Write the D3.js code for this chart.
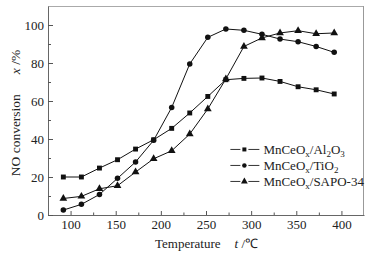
<!DOCTYPE html>
<html>
<head>
<meta charset="utf-8">
<script src="https://cdn.jsdelivr.net/npm/d3@7"></script>
<style>
  body { margin: 0; background: #fff; }
  svg text { font-family: "Liberation Serif", "Times New Roman", serif; fill: #222; }
</style>
</head>
<body>
<div id="chart"></div>
<script>
// Data
const temps = [92, 112, 132, 152, 172, 192, 212, 232, 252, 272, 292, 312, 332, 352, 372, 392];
const al2o3 = [20.0, 20.0, 24.7, 29.1, 34.7, 39.6, 45.6, 53.7, 62.4, 71.2, 71.9, 72.1, 70.3, 67.5, 65.9, 63.7];
const tio2 = [2.6, 5.6, 10.8, 19.3, 27.9, 39.3, 56.6, 79.5, 93.5, 97.9, 97.2, 95.1, 92.6, 91.2, 88.7, 85.6];
const sapo = [8.7, 9.8, 13.8, 15.4, 22.6, 29.6, 33.8, 42.6, 55.8, 71.6, 88.7, 93.2, 95.8, 97.0, 95.4, 95.8];
const xTicks = [100, 150, 200, 250, 300, 350, 400];
const yTicks = [0, 20, 40, 60, 80, 100];

const series = [
    { name: ["MnCeO", "x", "/Al", "2", "O", "3"], values: al2o3, shape: d3.symbolSquare },
    { name: ["MnCeO", "x", "/TiO", "2"], values: tio2, shape: d3.symbolCircle },
    { name: ["MnCeO", "x", "/SAPO-34"], values: sapo, shape: d3.symbolTriangle }
];

const W = 378, H = 256;
const margin = { top: 6, right: 14, bottom: 41, left: 48 };
const width = W - margin.left - margin.right;
const height = H - margin.top - margin.bottom;

const svg = d3.select("#chart").append("svg")
    .attr("width", W)
    .attr("height", H)
    .append("g")
    .attr("transform", `translate(${margin.left},${margin.top})`);

const xScale = d3.scaleLinear().domain([75, 425]).range([0, width]);
const yScale = d3.scaleLinear().domain([0, 110]).range([height, 0]);

// frame: top & right lighter
svg.append("line").attr("x1", 0).attr("x2", width).attr("y1", 0.5).attr("y2", 0.5)
    .attr("stroke", "#aaa");
svg.append("line").attr("x1", width - 0.5).attr("x2", width - 0.5).attr("y1", 0).attr("y2", height)
    .attr("stroke", "#999");

// minor ticks
const xMinor = d3.range(125, 425, 50);
const yMinor = d3.range(10, 110, 20);

const xAxis = d3.axisBottom(xScale).tickValues(xTicks).tickSizeInner(-4).tickSizeOuter(0).tickPadding(5);
const yAxis = d3.axisLeft(yScale).tickValues(yTicks).tickSizeInner(-5).tickSizeOuter(0).tickPadding(4);

const gx = svg.append("g")
    .attr("class", "x-axis")
    .attr("transform", `translate(0,${height})`)
    .call(xAxis);
gx.append("g").selectAll("line")
    .data(xMinor)
    .enter().append("line")
    .attr("x1", d => xScale(d) + 0.5).attr("x2", d => xScale(d) + 0.5)
    .attr("y1", 0).attr("y2", -2.5)
    .attr("stroke", "#555");

const gy = svg.append("g")
    .attr("class", "y-axis")
    .call(yAxis);
gy.append("g").selectAll("line")
    .data(yMinor)
    .enter().append("line")
    .attr("y1", d => yScale(d) + 0.5).attr("y2", d => yScale(d) + 0.5)
    .attr("x1", 0).attr("x2", 3)
    .attr("stroke", "#555");

svg.selectAll(".domain").attr("stroke", "#666");
svg.selectAll(".tick line").attr("stroke", "#555");
svg.selectAll(".tick text")
    .attr("font-size", "13px")
    .attr("font-family", "Liberation Serif, serif")
    .attr("fill", "#222");

// lines + markers
const line = d3.line()
    .x((d, i) => xScale(temps[i]))
    .y(d => yScale(d));

series.forEach(s => {
    svg.append("path")
        .datum(s.values)
        .attr("fill", "none")
        .attr("stroke", "#111")
        .attr("stroke-width", 1)
        .attr("d", line);

    svg.selectAll(null)
        .data(s.values)
        .enter().append("path")
        .attr("d", d3.symbol().type(s.shape).size(s.shape === d3.symbolTriangle ? 26 : 24))
        .attr("transform", (d, i) => `translate(${xScale(temps[i])},${yScale(d)})`)
        .attr("fill", "#111");
});

// legend
const legend = svg.append("g")
    .attr("transform", `translate(${xScale(277)},${yScale(34.5)})`);

series.forEach((s, i) => {
    const row = legend.append("g").attr("transform", `translate(0,${i * 16})`);
    row.append("line").attr("x1", 0).attr("x2", 10).attr("stroke", "#333");
    row.append("line").attr("x1", 18).attr("x2", 29).attr("stroke", "#333");
    row.append("path")
        .attr("d", d3.symbol().type(s.shape).size(s.shape === d3.symbolTriangle ? 20 : 16))
        .attr("transform", "translate(14,0)")
        .attr("fill", "#111");
    const t = row.append("text")
        .attr("x", 33)
        .attr("y", 4.5)
        .attr("font-size", "13px");
    s.name.forEach((part, j) => {
        const sub = j % 2 === 1;
        t.append("tspan")
            .attr("dy", sub ? 3 : (j === 0 ? 0 : -3))
            .attr("font-size", sub ? "9px" : "13px")
            .text(part);
    });
});

// axis titles
const xTitle = svg.append("text")
    .attr("x", 107)
    .attr("y", height + 33)
    .attr("font-size", "13px");
xTitle.append("tspan").text("Temperature");
xTitle.append("tspan").attr("dx", 14).attr("font-style", "italic").text("t");
xTitle.append("tspan").text(" /\u2103");

const yTitle = svg.append("text")
    .attr("transform", `translate(-28,107) rotate(-90)`)
    .attr("text-anchor", "middle")
    .attr("font-size", "13.5px");
yTitle.append("tspan").text("NO conversion");
yTitle.append("tspan").attr("dx", 20).attr("font-style", "italic").text("x");
yTitle.append("tspan").text(" /%");
</script>
</body>
</html>
